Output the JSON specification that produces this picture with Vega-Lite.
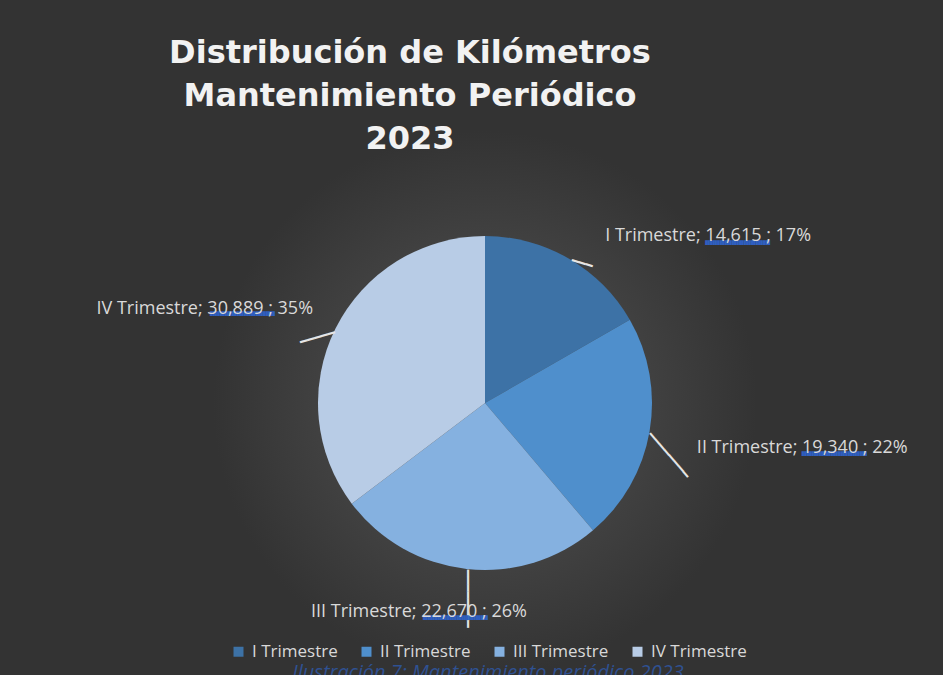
{
  "$schema": "https://vega.github.io/schema/vega-lite/v6.json",
  "width": 916,
  "height": 544,
  "autosize": "none",
  "padding": {"left": 27, "top": 131, "right": 0, "bottom": 0},
  "background": "#333333",
  "view": {
    "stroke": null,
    "fill": {
      "gradient": "radial",
      "x1": 0.5, "y1": 0.5, "x2": 0.5, "y2": 0.5,
      "r1": 0, "r2": 0.297,
      "stops": [
        {"offset": 0, "color": "#4b4b4b"},
        {"offset": 0.6, "color": "#414141"},
        {"offset": 1, "color": "#333333"}
      ]
    }
  },
  "title": {
    "text": ["Distribución de Kilómetros", "Mantenimiento Periódico", "2023"],
    "anchor": "middle",
    "dx": -75,
    "offset": -25,
    "font": "DejaVu Sans",
    "fontSize": 32,
    "fontWeight": "bold",
    "lineHeight": 43,
    "color": "#f2f2f2"
  },
  "data": {
    "values": [
      {"quarter": "I Trimestre", "km": 14615, "label": "I Trimestre; 14,615 ; 17%"},
      {"quarter": "II Trimestre", "km": 19340, "label": "II Trimestre; 19,340 ; 22%"},
      {"quarter": "III Trimestre", "km": 22670, "label": "III Trimestre; 22,670 ; 26%"},
      {"quarter": "IV Trimestre", "km": 30889, "label": "IV Trimestre; 30,889 ; 35%"}
    ]
  },
  "encoding": {
    "theta": {"field": "km", "type": "quantitative", "stack": true},
    "order": {"field": "quarter", "sort": "ascending"}
  },
  "layer": [
    {
      "mark": {"type": "arc", "outerRadius": 167},
      "encoding": {
        "color": {
          "field": "quarter",
          "type": "nominal",
          "scale": {
            "domain": ["I Trimestre", "II Trimestre", "III Trimestre", "IV Trimestre"],
            "range": ["#3d72a6", "#4f8fcc", "#85b1e0", "#b8cce6"]
          },
          "legend": {
            "orient": "none",
            "legendX": 203,
            "legendY": 512,
            "direction": "horizontal",
            "symbolType": "square",
            "symbolSize": 100,
            "symbolStrokeWidth": 0,
            "labelColor": "#d9d9d9",
            "labelFont": "Open Sans",
            "labelFontSize": 17,
            "labelOffset": 5,
            "columnPadding": 20,
            "title": "Ilustración 7: Mantenimiento periódico 2023",
            "titleOrient": "bottom",
            "titleAnchor": "middle",
            "titleLimit": 0,
            "titleColor": "#2f5192",
            "titleFont": "Open Sans",
            "titleFontStyle": "italic",
            "titleFontWeight": "normal",
            "titleFontSize": 20,
            "titlePadding": 3
          }
        }
      }
    },
    {
      "mark": {
        "type": "text",
        "radius": 210,
        "font": "DejaVu Sans Mono",
        "fontSize": 12,
        "color": "#e6e6e6",
        "align": "center",
        "baseline": "middle",
        "angle": {"expr": "datum.quarter == 'I Trimestre' ? 17 : (datum.quarter == 'II Trimestre' ? 49 : (datum.quarter == 'III Trimestre' ? 90 : -16))"},
        "dx": {"expr": "datum.quarter == 'I Trimestre' ? 4.6 : (datum.quarter == 'II Trimestre' ? -2.9 : (datum.quarter == 'III Trimestre' ? -13 : 12))"},
        "dy": {"expr": "datum.quarter == 'I Trimestre' ? 42.5 : (datum.quarter == 'II Trimestre' ? 27.9 : (datum.quarter == 'III Trimestre' ? -6 : 32.6))"}
      },
      "encoding": {
        "detail": {"field": "quarter"},
        "text": {"value": {"expr": "datum.quarter == 'I Trimestre' ? '━━━' : (datum.quarter == 'IV Trimestre' ? '━━━━━' : '━━━━━━━━')"}}
      }
    },
    {
      "mark": {
        "type": "text",
        "radius": 210,
        "font": "DejaVu Sans Mono",
        "fontSize": 4,
        "color": "#2f5fbf",
        "align": "left",
        "baseline": "middle",
        "dx": {"expr": "datum.quarter == 'I Trimestre' ? 115 : (datum.quarter == 'II Trimestre' ? 110 : (datum.quarter == 'III Trimestre' ? -39 : -87))"},
        "dy": {"expr": "datum.quarter == 'I Trimestre' ? 22 : (datum.quarter == 'II Trimestre' ? 15 : (datum.quarter == 'III Trimestre' ? 6 : 5))"}
      },
      "encoding": {
        "detail": {"field": "quarter"},
        "text": {"value": "███████████████████████████"}
      }
    },
    {
      "mark": {
        "type": "text",
        "radius": 210,
        "font": "Open Sans",
        "fontSize": 18,
        "color": "#d9d9d9",
        "baseline": "middle",
        "align": {"expr": "datum.quarter == 'IV Trimestre' ? 'right' : (datum.quarter == 'III Trimestre' ? 'center' : 'left')"},
        "dx": {"expr": "datum.quarter == 'I Trimestre' ? 15 : (datum.quarter == 'II Trimestre' ? 5 : (datum.quarter == 'III Trimestre' ? -43 : 16))"},
        "dy": {"expr": "datum.quarter == 'I Trimestre' ? 15 : (datum.quarter == 'II Trimestre' ? 9 : 0)"}
      },
      "encoding": {
        "detail": {"field": "quarter"},
        "text": {"field": "label"}
      }
    }
  ]
}
